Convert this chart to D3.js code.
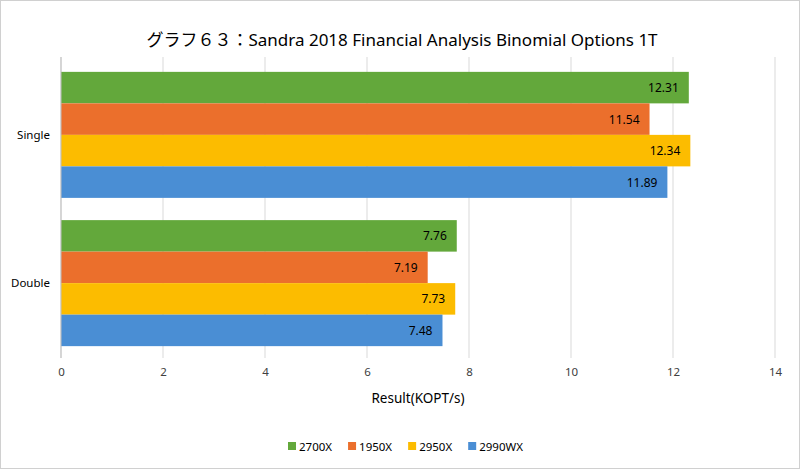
<!DOCTYPE html>
<html><head><meta charset="utf-8">
<script src="https://cdn.jsdelivr.net/npm/d3@7"></script>
<style>html,body{margin:0;padding:0;background:#fff;}svg{display:block;}</style>
</head><body>
<script>
const categories = ["Single", "Double"];
const seriesNames = ["2700X", "1950X", "2950X", "2990WX"];
const seriesColors = ["#63a83b", "#eb6f2c", "#fcbc00", "#4a8ed4"];
const values = {
  "2700X":  [12.31, 7.76],
  "1950X":  [11.54, 7.19],
  "2950X":  [12.34, 7.73],
  "2990WX": [11.89, 7.48]
};
const xTicks = [0, 2, 4, 6, 8, 10, 12, 14];
const titleText = "グラフ６３：Sandra 2018 Financial Analysis Binomial Options 1T";
const axisTitle = "Result(KOPT/s)";

const W = 800, H = 469;
const m = {left: 61, right: 25, top: 60, bottom: 111};
const svg = d3.select("body").append("svg").attr("width", W).attr("height", H);
svg.append("rect").attr("x", 0.5).attr("y", 0.5).attr("width", W-1).attr("height", H-1)
  .attr("fill", "#fff").attr("stroke", "#d0d0d0");

const font = "'Noto Sans', 'Noto Sans CJK JP', sans-serif";
const x = d3.scaleLinear().domain([0, 14]).range([m.left, W - m.right]);
const y0 = d3.scaleBand().domain(categories).range([m.top, H - m.bottom]).paddingInner(0.15).paddingOuter(0.08);
const y1 = d3.scaleBand().domain(seriesNames).range([0, y0.bandwidth()]);

// gridlines
const g = svg.append("g");
g.selectAll("line.grid").data(xTicks).join("line")
  .attr("x1", d => x(d)).attr("x2", d => x(d))
  .attr("y1", 57).attr("y2", H - m.bottom)
  .attr("stroke", "#d9d9d9").attr("stroke-width", 1);

// bars
categories.forEach((c, ci) => {
  seriesNames.forEach((s, si) => {
    const v = values[s][ci];
    const yy = y0(c) + y1(s);
    g.append("rect").attr("x", x(0)).attr("y", yy)
      .attr("width", x(v) - x(0)).attr("height", y1.bandwidth())
      .attr("fill", seriesColors[si]);
    g.append("text").attr("x", x(v) - 10).attr("y", yy + y1.bandwidth()/2)
      .attr("text-anchor", "end").attr("dominant-baseline", "central")
      .attr("font-family", font).attr("font-size", 12).attr("fill", "#000")
      .text(v.toFixed(2));
  });
});

// vertical axis line
g.append("line").attr("x1", x(0)).attr("x2", x(0)).attr("y1", 57).attr("y2", H - m.bottom)
  .attr("stroke", "#bfbfbf");

// x axis tick labels
const xa = d3.axisBottom(x).tickValues(xTicks).tickSize(0).tickPadding(0);
const axG = svg.append("g").attr("transform", `translate(0,${H - m.bottom + 10})`).call(xa);
axG.select(".domain").remove();
axG.selectAll("text").attr("font-family", font).attr("font-size", 11.5).attr("fill", "#404040");

// category labels
const ya = d3.axisLeft(y0).tickSize(0).tickPadding(11);
const yG = svg.append("g").attr("transform", `translate(${m.left},0)`).call(ya);
yG.select(".domain").remove();
yG.selectAll("text").attr("font-family", font).attr("font-size", 11.5).attr("fill", "#000");

// title
svg.append("text").attr("x", 402).attr("y", 46).attr("text-anchor", "middle")
  .attr("font-family", font).attr("font-size", 17).attr("fill", "#000").text(titleText);

// axis title
svg.append("text").attr("x", (x(0) + x(14)) / 2).attr("y", 403).attr("text-anchor", "middle")
  .attr("font-family", font).attr("font-size", 13.5).attr("fill", "#000").text(axisTitle);

// legend
const lg = svg.append("g").attr("transform", "translate(288,446)");
let lx = 0;
seriesNames.forEach((s, i) => {
  const it = lg.append("g").attr("transform", `translate(${lx},0)`);
  it.append("rect").attr("x", 0).attr("y", -4).attr("width", 8).attr("height", 8).attr("fill", seriesColors[i]);
  const t = it.append("text").attr("x", 11).attr("y", 0).attr("dominant-baseline", "central")
    .attr("font-family", font).attr("font-size", 11.5).attr("fill", "#000").text(s);
  lx += 11 + t.node().getComputedTextLength() + 16;
});
</script>
</body></html>
